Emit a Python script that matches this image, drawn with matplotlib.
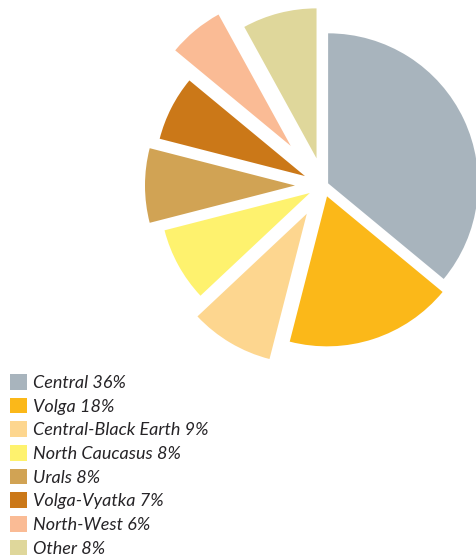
import matplotlib
matplotlib.use("Agg")
import matplotlib.pyplot as plt

regions = ["Central", "Volga", "Central-Black Earth", "North Caucasus",
           "Urals", "Volga-Vyatka", "North-West", "Other"]
shares = [36, 18, 9, 8, 8, 7, 6, 8]
colors = ["#a8b4bd", "#fbb819", "#fdd68f", "#fef26e",
          "#d1a354", "#cb7818", "#fabb95", "#dfd79b"]

# offset of each wedge from the pie centre, in pixels
explode = [5.1, 11.4, 32.8, 15.6, 28.5, 20.8, 51.3, 28.0]

W, H = 476, 557
fig = plt.figure(figsize=(W / 100, H / 100), dpi=100)
ax = fig.add_axes([0, 0, 1, 1])

wedges, _ = ax.pie(shares, colors=colors, explode=explode,
                   center=(323.5, H - 185.5), radius=150,
                   startangle=90, counterclock=False,
                   wedgeprops=dict(linewidth=0))
ax.set_xlim(0, W)
ax.set_ylim(0, H)
ax.set_aspect("equal", adjustable="box")
ax.axis("off")

labels = [f"{r} {s}%" for r, s in zip(regions, shares)]
leg = fig.legend(wedges, labels, loc="upper left",
                 bbox_to_anchor=(10 / W, 1 - 374 / H),
                 frameon=False, handlelength=0.95, handleheight=0.95,
                 handletextpad=0.35, labelspacing=0.37,
                 borderaxespad=0, borderpad=0,
                 prop=dict(family="Lato", style="italic", size=13))
for t in leg.get_texts():
    t.set_color("#262427")

fig.savefig("out.png", dpi=100)
